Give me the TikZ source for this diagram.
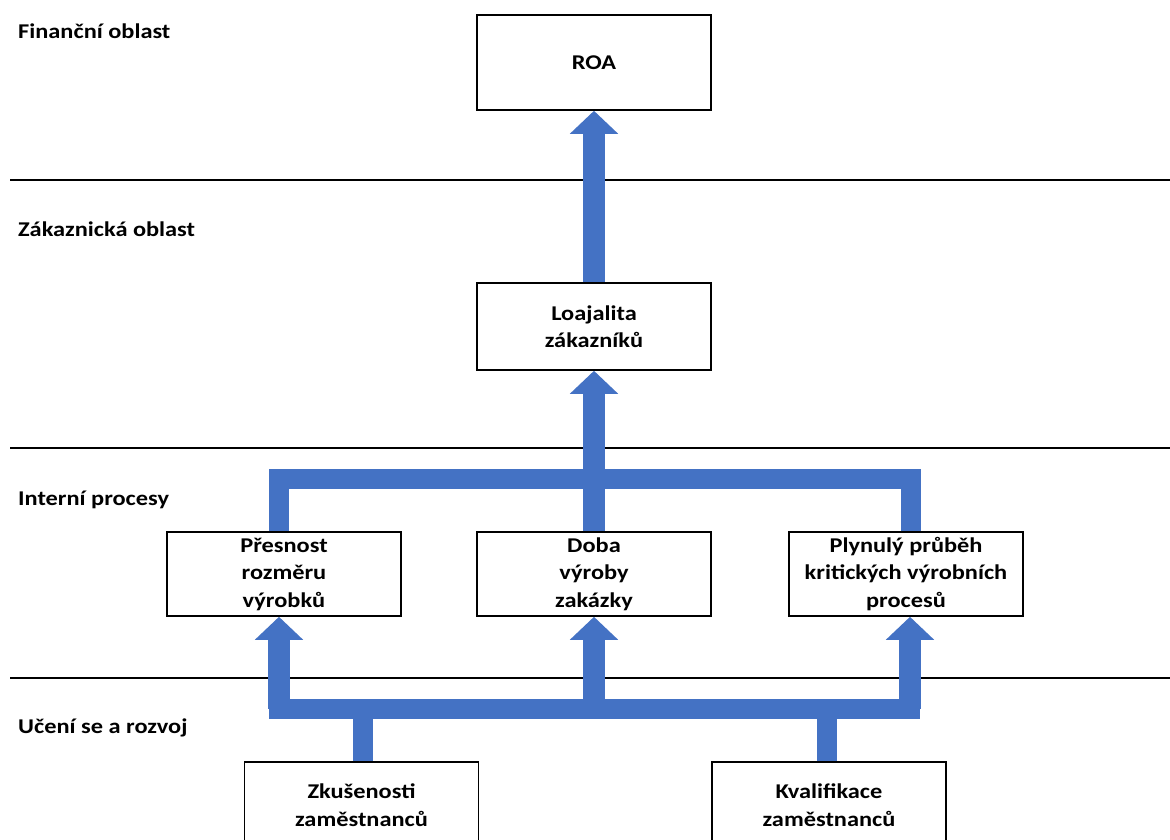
\documentclass[tikz,border=0pt]{standalone}
\usepackage{fontspec}
\setmainfont{Carlito}[FakeStretch=1.16]
\usetikzlibrary{arrows.meta}
\definecolor{flowblue}{HTML}{4472C4}
\begin{document}
\begin{tikzpicture}[x=1pt,y=-1pt,
  box/.style={draw=black, line width=1.6pt, fill=white, minimum width=234pt,
    align=center, inner sep=0pt, font=\fontsize{21}{27.5}\selectfont\bfseries},
  lane/.style={black, line width=1.8pt},
  lanelabel/.style={anchor=base west, inner sep=0pt, font=\fontsize{21}{24}\selectfont\bfseries},
  bar/.style={flowblue, line width=20pt, line join=miter},
  shaft/.style={flowblue, line width=22pt},
  uparrow/.style={shaft, -{Triangle[width=47pt,length=23pt]}},
]
\useasboundingbox (0,0) rectangle (1170,839);

% lane separators
\draw[lane] (10,180) -- (1170,180);
\draw[lane] (10,448) -- (1170,448);
\draw[lane] (10,678) -- (1170,678);

% lane titles
\node[lanelabel] (l1) at (18,38) {Finanční oblast};
\node[lanelabel] (l2) at (18,236) {Zákaznická oblast};
\node[lanelabel] (l3) at (18,505) {Interní procesy};
\node[lanelabel] (l4) at (18,733) {Učení se a rozvoj};

% boxes
\node[box, minimum height=95pt] (roa) at (594,62.5) {ROA};
\node[box, minimum height=87pt] (loaj) at (594,326.5) {Loajalita\\zákazníků};
\node[box, minimum height=84pt] (pres) at (284,574) {Přesnost\\rozměru\\výrobků};
\node[box, minimum height=84pt] (doba) at (594,574) {Doba\\výroby\\zakázky};
\node[box, minimum height=84pt] (plyn) at (906,574) {Plynulý průběh\\kritických výrobních\\procesů};
\node[box, minimum height=86pt] (zk) at (361.5,805) {Zkušenosti\\zaměstnanců};
\node[box, minimum height=86pt] (kv) at (829,805) {Kvalifikace\\zaměstnanců};

% internal processes -> customer loyalty
\coordinate (ujoin) at (595,479);
\draw[bar] ([xshift=-5pt]pres.north) |- (ujoin);
\draw[bar] ([xshift=5pt]plyn.north) |- (ujoin);
\draw[uparrow] (doba.north) -- (loaj.south);

% customer loyalty -> ROA
\draw[uparrow] (loaj.north) -- (roa.south);

% learning and growth -> internal processes
\coordinate (lL) at (279,708.5);
\coordinate (lR) at (910,708.5);
\draw[bar, line cap=rect] (lL) -- (lR);
\draw[uparrow] (lL) -- ([xshift=-5pt]pres.south);
\draw[uparrow] (doba.south |- lL) -- (doba.south);
\draw[uparrow] (lR) -- ([xshift=4pt]plyn.south);
\draw[bar] ([xshift=1.5pt]zk.north) -- ([xshift=1.5pt]zk.north |- lL);
\draw[bar] ([xshift=-2pt]kv.north) -- ([xshift=-2pt]kv.north |- lL);
\end{tikzpicture}
\end{document}
